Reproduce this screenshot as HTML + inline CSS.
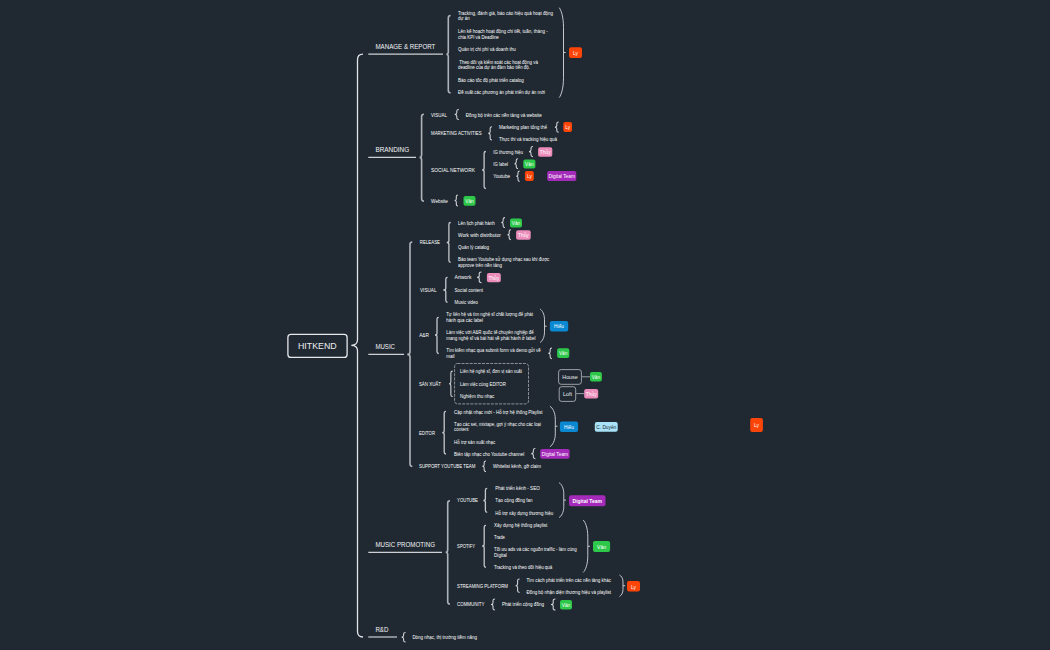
<!DOCTYPE html>
<html><head><meta charset="utf-8"><title>HITKEND</title>
<style>
html,body{margin:0;padding:0;background:#202932;width:1050px;height:650px;overflow:hidden;}
svg{display:block;font-family:"Liberation Sans",sans-serif;}
</style></head><body>
<svg width="1050" height="650" viewBox="0 0 1050 650">
<rect width="1050" height="650" fill="#202932"/>
<rect x="287.9" y="334.3" width="59.2" height="23.1" rx="3" fill="none" stroke="#e6e8eb" stroke-width="1.3"/>
<text x="298.00" y="349.00" font-size="9.20" fill="#eceef0" font-weight="normal" textLength="38.70" lengthAdjust="spacingAndGlyphs">HITKEND</text>
<path d="M363.00 54.20 Q357.50 54.20 357.50 59.70 L357.50 339.80 Q357.50 345.30 351.30 345.30 Q357.50 345.30 357.50 350.80 L357.50 631.50 Q357.50 637.00 363.00 637.00" stroke="#e2e4e7" stroke-width="1.30" fill="none"/>
<text x="375.40" y="49.00" font-size="7.90" fill="#f3f4f6" font-weight="normal" textLength="60.00" lengthAdjust="spacingAndGlyphs">MANAGE &amp; REPORT</text>
<path d="M368.30 54.20L443.00 54.20" stroke="#cdd1d5" stroke-width="1.20" fill="none"/>
<text x="375.40" y="152.00" font-size="7.90" fill="#f3f4f6" font-weight="normal" textLength="33.80" lengthAdjust="spacingAndGlyphs">BRANDING</text>
<path d="M368.30 157.40L416.00 157.40" stroke="#cdd1d5" stroke-width="1.20" fill="none"/>
<text x="375.40" y="349.00" font-size="7.90" fill="#f3f4f6" font-weight="normal" textLength="19.60" lengthAdjust="spacingAndGlyphs">MUSIC</text>
<path d="M368.30 354.40L404.00 354.40" stroke="#cdd1d5" stroke-width="1.20" fill="none"/>
<text x="375.40" y="547.00" font-size="7.90" fill="#f3f4f6" font-weight="normal" textLength="59.60" lengthAdjust="spacingAndGlyphs">MUSIC PROMOTING</text>
<path d="M368.30 552.40L442.00 552.40" stroke="#cdd1d5" stroke-width="1.20" fill="none"/>
<text x="375.40" y="632.00" font-size="7.90" fill="#f3f4f6" font-weight="normal" textLength="13.00" lengthAdjust="spacingAndGlyphs">R&amp;D</text>
<path d="M368.30 637.00L397.00 637.00" stroke="#cdd1d5" stroke-width="1.20" fill="none"/>
<path d="M450.60 15.50 Q448.30 15.50 448.30 17.80 L448.30 51.90 Q448.30 54.20 446.30 54.20 Q448.30 54.20 448.30 56.50 L448.30 90.40 Q448.30 92.70 450.60 92.70" stroke="#aeb3b9" stroke-width="1.60" fill="none"/>
<text x="458.00" y="15.00" font-size="5.40" fill="#ffffff" font-weight="normal" textLength="95.00" lengthAdjust="spacingAndGlyphs">Tracking, đánh giá, báo cáo  hiệu quả hoạt động</text>
<text x="458.00" y="20.00" font-size="5.40" fill="#ffffff" font-weight="normal" textLength="11.60" lengthAdjust="spacingAndGlyphs">dự án</text>
<text x="458.00" y="33.00" font-size="5.40" fill="#ffffff" font-weight="normal" textLength="89.70" lengthAdjust="spacingAndGlyphs">Lên kế hoạch hoạt động chi tiết, tuần, tháng -</text>
<text x="458.00" y="39.00" font-size="5.40" fill="#ffffff" font-weight="normal" textLength="40.80" lengthAdjust="spacingAndGlyphs">chia KPI và Deadline</text>
<text x="458.00" y="51.00" font-size="5.40" fill="#ffffff" font-weight="normal" textLength="57.70" lengthAdjust="spacingAndGlyphs">Quản trị chi phí và doanh thu</text>
<text x="459.20" y="64.00" font-size="5.40" fill="#ffffff" font-weight="normal" textLength="78.80" lengthAdjust="spacingAndGlyphs">Theo dõi và kiểm soát các hoạt động và</text>
<text x="458.00" y="69.00" font-size="5.40" fill="#ffffff" font-weight="normal" textLength="72.00" lengthAdjust="spacingAndGlyphs">deadline của dự án đảm bảo tiến độ.</text>
<text x="458.00" y="82.00" font-size="5.40" fill="#ffffff" font-weight="normal" textLength="65.80" lengthAdjust="spacingAndGlyphs">Báo cáo tốc độ phát triển catalog</text>
<text x="458.00" y="94.00" font-size="5.40" fill="#ffffff" font-weight="normal" textLength="87.00" lengthAdjust="spacingAndGlyphs">Đề xuất các phương án phát triển dự án mới</text>
<path d="M559.20 7.70 C561.13 10.10 563.50 16.70 563.50 27.70 L563.50 77.60 C563.50 88.60 561.13 95.20 559.20 97.60" stroke="#c4c7cc" stroke-width="1.00" fill="none"/>
<path d="M563.50 52.50L565.70 52.50" stroke="#c4c7cc" stroke-width="1.00"/>
<rect x="569.00" y="47.30" width="13.00" height="10.70" rx="2.00" fill="#fb4407"/>
<text x="575.50" y="54.86" font-size="4.80" fill="#ffffff" font-weight="normal" text-anchor="middle">Ly</text>
<path d="M423.90 114.20 Q421.60 114.20 421.60 116.50 L421.60 155.10 Q421.60 157.40 419.60 157.40 Q421.60 157.40 421.60 159.70 L421.60 198.80 Q421.60 201.10 423.90 201.10" stroke="#aeb3b9" stroke-width="1.60" fill="none"/>
<text x="431.00" y="117.00" font-size="5.30" fill="#ffffff" font-weight="normal" textLength="16.00" lengthAdjust="spacingAndGlyphs">VISUAL</text>
<path d="M458.90 109.40 Q456.80 109.40 456.80 111.00 L456.80 112.85 Q456.80 114.45 454.70 114.45 Q456.80 114.45 456.80 116.05 L456.80 117.90 Q456.80 119.50 458.90 119.50" stroke="#d3d6da" stroke-width="1.05" fill="none"/>
<text x="465.70" y="117.00" font-size="5.40" fill="#ffffff" font-weight="normal" textLength="76.20" lengthAdjust="spacingAndGlyphs">Đồng bộ trên các nền tảng và website</text>
<text x="431.00" y="135.00" font-size="5.30" fill="#ffffff" font-weight="normal" textLength="50.70" lengthAdjust="spacingAndGlyphs">MARKETING ACTIVITIES</text>
<path d="M492.00 126.70 Q490.15 126.70 490.15 128.30 L490.15 131.75 Q490.15 133.35 488.30 133.35 Q490.15 133.35 490.15 134.95 L490.15 138.40 Q490.15 140.00 492.00 140.00" stroke="#d3d6da" stroke-width="1.05" fill="none"/>
<text x="499.00" y="129.00" font-size="5.40" fill="#ffffff" font-weight="normal" textLength="48.00" lengthAdjust="spacingAndGlyphs">Marketing plan tổng thể</text>
<path d="M558.70 122.00 Q556.80 122.00 556.80 123.60 L556.80 125.55 Q556.80 127.15 554.90 127.15 Q556.80 127.15 556.80 128.75 L556.80 130.70 Q556.80 132.30 558.70 132.30" stroke="#d3d6da" stroke-width="1.05" fill="none"/>
<rect x="563.30" y="122.00" width="8.70" height="10.00" rx="2.00" fill="#fb4407"/>
<text x="567.65" y="129.21" font-size="4.80" fill="#ffffff" font-weight="normal" text-anchor="middle">Ly</text>
<text x="499.00" y="141.00" font-size="5.40" fill="#ffffff" font-weight="normal" textLength="58.00" lengthAdjust="spacingAndGlyphs">Thực thi và tracking hiệu quả</text>
<text x="431.00" y="172.00" font-size="5.30" fill="#ffffff" font-weight="normal" textLength="43.90" lengthAdjust="spacingAndGlyphs">SOCIAL NETWORK</text>
<path d="M485.90 151.50 Q484.10 151.50 484.10 153.30 L484.10 168.20 Q484.10 170.00 482.10 170.00 Q484.10 170.00 484.10 171.80 L484.10 186.70 Q484.10 188.50 485.90 188.50" stroke="#c3c7cc" stroke-width="1.30" fill="none"/>
<text x="493.30" y="154.00" font-size="5.40" fill="#ffffff" font-weight="normal" textLength="29.60" lengthAdjust="spacingAndGlyphs">IG thương hiệu</text>
<path d="M533.00 146.50 Q531.00 146.50 531.00 148.10 L531.00 150.00 Q531.00 151.60 529.00 151.60 Q531.00 151.60 531.00 153.20 L531.00 155.10 Q531.00 156.70 533.00 156.70" stroke="#d3d6da" stroke-width="1.05" fill="none"/>
<rect x="538.10" y="147.20" width="14.20" height="9.50" rx="2.00" fill="#ec8cbb"/>
<text x="545.20" y="154.16" font-size="4.80" fill="#ffffff" font-weight="normal" text-anchor="middle">Thủy</text>
<text x="493.30" y="166.00" font-size="5.40" fill="#ffffff" font-weight="normal" textLength="14.70" lengthAdjust="spacingAndGlyphs">IG label</text>
<path d="M518.00 158.70 Q516.25 158.70 516.25 160.30 L516.25 162.05 Q516.25 163.65 514.50 163.65 Q516.25 163.65 516.25 165.25 L516.25 167.00 Q516.25 168.60 518.00 168.60" stroke="#d3d6da" stroke-width="1.05" fill="none"/>
<rect x="523.30" y="159.40" width="12.10" height="9.20" rx="2.00" fill="#2dc84a"/>
<text x="529.35" y="166.21" font-size="4.80" fill="#ffffff" font-weight="normal" text-anchor="middle">Vân</text>
<text x="493.30" y="178.00" font-size="5.40" fill="#ffffff" font-weight="normal" textLength="16.70" lengthAdjust="spacingAndGlyphs">Youtube</text>
<path d="M519.70 171.00 Q518.00 171.00 518.00 172.60 L518.00 174.60 Q518.00 176.20 516.30 176.20 Q518.00 176.20 518.00 177.80 L518.00 179.80 Q518.00 181.40 519.70 181.40" stroke="#d3d6da" stroke-width="1.05" fill="none"/>
<rect x="524.90" y="171.10" width="8.90" height="9.90" rx="2.00" fill="#fb4407"/>
<text x="529.35" y="178.26" font-size="4.80" fill="#ffffff" font-weight="normal" text-anchor="middle">Ly</text>
<rect x="547.20" y="171.10" width="29.10" height="9.90" rx="2.00" fill="#a42bb9"/>
<text x="561.75" y="178.26" font-size="4.80" fill="#ffffff" font-weight="normal" text-anchor="middle">Digital Team</text>
<text x="431.00" y="203.00" font-size="5.30" fill="#ffffff" font-weight="normal" textLength="17.00" lengthAdjust="spacingAndGlyphs">Website</text>
<path d="M458.00 195.00 Q456.30 195.00 456.30 196.60 L456.30 198.90 Q456.30 200.50 454.60 200.50 Q456.30 200.50 456.30 202.10 L456.30 204.40 Q456.30 206.00 458.00 206.00" stroke="#d3d6da" stroke-width="1.05" fill="none"/>
<rect x="463.50" y="196.00" width="12.00" height="9.80" rx="2.00" fill="#2dc84a"/>
<text x="469.50" y="203.11" font-size="4.80" fill="#ffffff" font-weight="normal" text-anchor="middle">Vân</text>
<path d="M412.30 242.00 Q410.00 242.00 410.00 244.30 L410.00 352.10 Q410.00 354.40 407.30 354.40 Q410.00 354.40 410.00 356.70 L410.00 464.00 Q410.00 466.30 412.30 466.30" stroke="#aeb3b9" stroke-width="1.60" fill="none"/>
<text x="419.80" y="244.00" font-size="5.30" fill="#ffffff" font-weight="normal" textLength="20.20" lengthAdjust="spacingAndGlyphs">RELEASE</text>
<path d="M450.70 222.50 Q448.90 222.50 448.90 224.30 L448.90 240.70 Q448.90 242.50 446.80 242.50 Q448.90 242.50 448.90 244.30 L448.90 260.50 Q448.90 262.30 450.70 262.30" stroke="#c3c7cc" stroke-width="1.30" fill="none"/>
<text x="457.90" y="225.00" font-size="5.40" fill="#ffffff" font-weight="normal" textLength="36.90" lengthAdjust="spacingAndGlyphs">Lên lịch phát hành</text>
<path d="M505.00 217.60 Q503.15 217.60 503.15 219.20 L503.15 220.95 Q503.15 222.55 501.30 222.55 Q503.15 222.55 503.15 224.15 L503.15 225.90 Q503.15 227.50 505.00 227.50" stroke="#d3d6da" stroke-width="1.05" fill="none"/>
<rect x="510.00" y="218.40" width="12.00" height="9.10" rx="2.00" fill="#2dc84a"/>
<text x="516.00" y="225.16" font-size="4.80" fill="#ffffff" font-weight="normal" text-anchor="middle">Vân</text>
<text x="458.00" y="237.00" font-size="5.40" fill="#ffffff" font-weight="normal" textLength="42.90" lengthAdjust="spacingAndGlyphs">Work with distributor</text>
<path d="M511.00 229.80 Q509.20 229.80 509.20 231.40 L509.20 233.15 Q509.20 234.75 507.40 234.75 Q509.20 234.75 509.20 236.35 L509.20 238.10 Q509.20 239.70 511.00 239.70" stroke="#d3d6da" stroke-width="1.05" fill="none"/>
<rect x="516.10" y="230.30" width="14.60" height="9.40" rx="2.00" fill="#ec8cbb"/>
<text x="523.40" y="237.21" font-size="4.80" fill="#ffffff" font-weight="normal" text-anchor="middle">Thủy</text>
<text x="458.00" y="249.00" font-size="5.40" fill="#ffffff" font-weight="normal" textLength="31.10" lengthAdjust="spacingAndGlyphs">Quản lý catalog</text>
<text x="458.00" y="261.00" font-size="5.40" fill="#ffffff" font-weight="normal" textLength="91.30" lengthAdjust="spacingAndGlyphs">Báo team Youtube sử dụng nhạc sau khi được</text>
<text x="458.00" y="267.00" font-size="5.40" fill="#ffffff" font-weight="normal" textLength="44.00" lengthAdjust="spacingAndGlyphs">approve trên nền tảng</text>
<text x="420.00" y="292.00" font-size="5.30" fill="#ffffff" font-weight="normal" textLength="16.50" lengthAdjust="spacingAndGlyphs">VISUAL</text>
<path d="M447.60 277.30 Q445.80 277.30 445.80 279.10 L445.80 288.20 Q445.80 290.00 443.40 290.00 Q445.80 290.00 445.80 291.80 L445.80 300.50 Q445.80 302.30 447.60 302.30" stroke="#c3c7cc" stroke-width="1.30" fill="none"/>
<text x="454.60" y="279.00" font-size="5.40" fill="#ffffff" font-weight="normal" textLength="16.90" lengthAdjust="spacingAndGlyphs">Artwork</text>
<path d="M481.50 271.90 Q479.25 271.90 479.25 273.50 L479.25 275.70 Q479.25 277.30 477.00 277.30 Q479.25 277.30 479.25 278.90 L479.25 281.10 Q479.25 282.70 481.50 282.70" stroke="#d3d6da" stroke-width="1.05" fill="none"/>
<rect x="486.90" y="273.00" width="13.90" height="9.20" rx="2.00" fill="#ec8cbb"/>
<text x="493.85" y="279.81" font-size="4.80" fill="#ffffff" font-weight="normal" text-anchor="middle">Thủy</text>
<text x="454.60" y="292.00" font-size="5.40" fill="#ffffff" font-weight="normal" textLength="28.40" lengthAdjust="spacingAndGlyphs">Social content</text>
<text x="454.60" y="304.00" font-size="5.40" fill="#ffffff" font-weight="normal" textLength="23.40" lengthAdjust="spacingAndGlyphs">Music video</text>
<text x="419.20" y="337.00" font-size="5.30" fill="#ffffff" font-weight="normal" textLength="9.80" lengthAdjust="spacingAndGlyphs">A&amp;R</text>
<path d="M438.80 317.30 Q437.00 317.30 437.00 319.10 L437.00 333.20 Q437.00 335.00 435.00 335.00 Q437.00 335.00 437.00 336.80 L437.00 351.70 Q437.00 353.50 438.80 353.50" stroke="#c3c7cc" stroke-width="1.30" fill="none"/>
<text x="446.20" y="316.00" font-size="5.40" fill="#ffffff" font-weight="normal" textLength="86.80" lengthAdjust="spacingAndGlyphs">Tự liên hệ và tìm nghệ sĩ chất lượng để phát</text>
<text x="446.20" y="322.00" font-size="5.40" fill="#ffffff" font-weight="normal" textLength="36.80" lengthAdjust="spacingAndGlyphs">hành qua các label</text>
<text x="446.20" y="334.00" font-size="5.40" fill="#ffffff" font-weight="normal" textLength="87.60" lengthAdjust="spacingAndGlyphs">Làm việc với A&amp;R quốc tế chuyên nghiệp để</text>
<text x="446.20" y="340.00" font-size="5.40" fill="#ffffff" font-weight="normal" textLength="89.20" lengthAdjust="spacingAndGlyphs">mang nghệ sĩ và bài hát về phát hành ở label</text>
<path d="M540.20 309.10 C542.13 310.38 544.50 313.91 544.50 319.79 L544.50 331.81 C544.50 337.69 542.13 341.22 540.20 342.50" stroke="#c4c7cc" stroke-width="1.00" fill="none"/>
<path d="M544.50 326.20L546.70 326.20" stroke="#c4c7cc" stroke-width="1.00"/>
<rect x="549.90" y="321.00" width="18.30" height="10.40" rx="2.00" fill="#0a88d2"/>
<text x="559.05" y="328.41" font-size="4.80" fill="#ffffff" font-weight="normal" text-anchor="middle">Hiếu</text>
<text x="446.20" y="352.00" font-size="5.40" fill="#ffffff" font-weight="normal" textLength="94.60" lengthAdjust="spacingAndGlyphs">Tìm kiếm nhạc qua submit form và demo gửi về</text>
<text x="446.20" y="358.00" font-size="5.40" fill="#ffffff" font-weight="normal" textLength="8.40" lengthAdjust="spacingAndGlyphs">mail</text>
<path d="M552.00 347.90 Q550.15 347.90 550.15 349.50 L550.15 351.70 Q550.15 353.30 548.30 353.30 Q550.15 353.30 550.15 354.90 L550.15 357.10 Q550.15 358.70 552.00 358.70" stroke="#d3d6da" stroke-width="1.05" fill="none"/>
<rect x="557.10" y="348.20" width="12.20" height="9.70" rx="2.00" fill="#2dc84a"/>
<text x="563.20" y="355.26" font-size="4.80" fill="#ffffff" font-weight="normal" text-anchor="middle">Vân</text>
<text x="418.90" y="386.00" font-size="5.30" fill="#ffffff" font-weight="normal" textLength="22.10" lengthAdjust="spacingAndGlyphs">SẢN XUẤT</text>
<path d="M452.70 371.10 Q450.85 371.10 450.85 372.90 L450.85 382.00 Q450.85 383.80 449.00 383.80 Q450.85 383.80 450.85 385.60 L450.85 394.70 Q450.85 396.50 452.70 396.50" stroke="#d3d6da" stroke-width="1.05" fill="none"/>
<rect x="454.6" y="363.5" width="73.9" height="40.4" rx="2.8" fill="none" stroke="#9da2a8" stroke-width="0.85" stroke-dasharray="3 1.1"/>
<text x="460.10" y="373.00" font-size="5.40" fill="#ffffff" font-weight="normal" textLength="61.90" lengthAdjust="spacingAndGlyphs">Liên hệ nghệ sĩ, đơn vị sản xuất</text>
<text x="460.10" y="386.00" font-size="5.40" fill="#ffffff" font-weight="normal" textLength="45.80" lengthAdjust="spacingAndGlyphs">Làm việc cùng EDITOR</text>
<text x="460.10" y="398.00" font-size="5.40" fill="#ffffff" font-weight="normal" textLength="34.10" lengthAdjust="spacingAndGlyphs">Nghiệm thu nhạc</text>
<rect x="558.6" y="369.6" width="22.8" height="14.7" rx="2.5" fill="none" stroke="#a9adb3" stroke-width="0.9"/>
<text x="562.30" y="379.00" font-size="5.60" fill="#eceef0" font-weight="normal" textLength="15.40" lengthAdjust="spacingAndGlyphs">House</text>
<path d="M581.90 376.80L590.00 376.80" stroke="#a9adb3" stroke-width="0.90" fill="none"/>
<rect x="590.00" y="371.90" width="11.90" height="9.60" rx="2.00" fill="#2dc84a"/>
<text x="595.95" y="378.91" font-size="4.80" fill="#ffffff" font-weight="normal" text-anchor="middle">Vân</text>
<rect x="559.2" y="386.7" width="16.5" height="14.7" rx="2.5" fill="none" stroke="#a9adb3" stroke-width="0.9"/>
<text x="563.00" y="396.00" font-size="5.60" fill="#eceef0" font-weight="normal" textLength="9.00" lengthAdjust="spacingAndGlyphs">Loft</text>
<path d="M576.20 393.60L584.20 393.60" stroke="#a9adb3" stroke-width="0.90" fill="none"/>
<rect x="584.20" y="389.10" width="14.00" height="9.40" rx="2.00" fill="#ec8cbb"/>
<text x="591.20" y="396.01" font-size="4.80" fill="#ffffff" font-weight="normal" text-anchor="middle">Thủy</text>
<text x="419.00" y="435.00" font-size="5.30" fill="#ffffff" font-weight="normal" textLength="16.00" lengthAdjust="spacingAndGlyphs">EDITOR</text>
<path d="M446.00 411.40 Q444.20 411.40 444.20 413.20 L444.20 430.90 Q444.20 432.70 442.20 432.70 Q444.20 432.70 444.20 434.50 L444.20 452.20 Q444.20 454.00 446.00 454.00" stroke="#c3c7cc" stroke-width="1.30" fill="none"/>
<text x="454.10" y="414.00" font-size="5.40" fill="#ffffff" font-weight="normal" textLength="88.40" lengthAdjust="spacingAndGlyphs">Cập nhật nhạc mới - Hỗ trợ hệ thống Playlist</text>
<text x="454.10" y="426.00" font-size="5.40" fill="#ffffff" font-weight="normal" textLength="86.90" lengthAdjust="spacingAndGlyphs">Tạo các set, mixtape, gợi ý nhạc cho các loại</text>
<text x="454.10" y="431.00" font-size="5.40" fill="#ffffff" font-weight="normal" textLength="14.50" lengthAdjust="spacingAndGlyphs">content</text>
<text x="454.10" y="444.00" font-size="5.40" fill="#ffffff" font-weight="normal" textLength="41.10" lengthAdjust="spacingAndGlyphs">Hỗ trợ sản xuất nhạc</text>
<path d="M549.90 406.20 C552.33 407.76 555.30 412.05 555.30 419.19 L555.30 433.81 C555.30 440.95 552.33 445.24 549.90 446.80" stroke="#c4c7cc" stroke-width="1.00" fill="none"/>
<path d="M555.30 426.20L557.50 426.20" stroke="#c4c7cc" stroke-width="1.00"/>
<rect x="559.90" y="421.50" width="18.20" height="10.50" rx="2.00" fill="#0a88d2"/>
<text x="569.00" y="428.96" font-size="4.80" fill="#ffffff" font-weight="normal" text-anchor="middle">Hiếu</text>
<rect x="594.80" y="422.00" width="22.90" height="9.80" rx="2.00" fill="#a7e2f6"/>
<text x="606.25" y="429.11" font-size="4.80" fill="#1f2630" font-weight="normal" text-anchor="middle">C. Duyên</text>
<rect x="750.20" y="418.10" width="12.70" height="13.80" rx="2.00" fill="#fb4407"/>
<text x="756.55" y="427.21" font-size="4.80" fill="#ffffff" font-weight="normal" text-anchor="middle">Ly</text>
<text x="454.10" y="456.00" font-size="5.40" fill="#ffffff" font-weight="normal" textLength="70.10" lengthAdjust="spacingAndGlyphs">Biên tập nhạc cho Youtube channel</text>
<path d="M535.40 448.50 Q533.35 448.50 533.35 450.10 L533.35 452.00 Q533.35 453.60 531.30 453.60 Q533.35 453.60 533.35 455.20 L533.35 457.10 Q533.35 458.70 535.40 458.70" stroke="#d3d6da" stroke-width="1.05" fill="none"/>
<rect x="540.20" y="449.00" width="29.40" height="9.70" rx="2.00" fill="#a42bb9"/>
<text x="554.90" y="456.06" font-size="4.80" fill="#ffffff" font-weight="normal" text-anchor="middle">Digital Team</text>
<text x="419.00" y="468.00" font-size="5.30" fill="#ffffff" font-weight="normal" textLength="56.40" lengthAdjust="spacingAndGlyphs">SUPPORT YOUTUBE TEAM</text>
<path d="M486.00 461.00 Q484.15 461.00 484.15 462.60 L484.15 464.70 Q484.15 466.30 482.30 466.30 Q484.15 466.30 484.15 467.90 L484.15 470.00 Q484.15 471.60 486.00 471.60" stroke="#d3d6da" stroke-width="1.05" fill="none"/>
<text x="493.00" y="468.00" font-size="5.40" fill="#ffffff" font-weight="normal" textLength="48.00" lengthAdjust="spacingAndGlyphs">Whitelist kênh, gỡ claim</text>
<path d="M450.00 500.70 Q447.70 500.70 447.70 503.00 L447.70 549.90 Q447.70 552.20 445.70 552.20 Q447.70 552.20 447.70 554.50 L447.70 601.70 Q447.70 604.00 450.00 604.00" stroke="#aeb3b9" stroke-width="1.60" fill="none"/>
<text x="457.10" y="502.00" font-size="5.30" fill="#ffffff" font-weight="normal" textLength="20.90" lengthAdjust="spacingAndGlyphs">YOUTUBE</text>
<path d="M487.20 488.40 Q485.40 488.40 485.40 490.20 L485.40 498.70 Q485.40 500.50 483.40 500.50 Q485.40 500.50 485.40 502.30 L485.40 510.60 Q485.40 512.40 487.20 512.40" stroke="#c3c7cc" stroke-width="1.30" fill="none"/>
<text x="495.20" y="490.00" font-size="5.40" fill="#ffffff" font-weight="normal" textLength="44.60" lengthAdjust="spacingAndGlyphs">Phát triển kênh  - SEO</text>
<text x="495.20" y="502.00" font-size="5.40" fill="#ffffff" font-weight="normal" textLength="37.40" lengthAdjust="spacingAndGlyphs">Tạo cộng đồng fan</text>
<text x="495.20" y="515.00" font-size="5.40" fill="#ffffff" font-weight="normal" textLength="58.00" lengthAdjust="spacingAndGlyphs">Hỗ trợ xây dựng thương hiệu</text>
<path d="M559.20 482.70 C561.27 484.04 563.80 487.71 563.80 493.84 L563.80 506.36 C563.80 512.49 561.27 516.16 559.20 517.50" stroke="#c4c7cc" stroke-width="1.00" fill="none"/>
<path d="M563.80 500.10L566.00 500.10" stroke="#c4c7cc" stroke-width="1.00"/>
<rect x="569.00" y="495.20" width="36.50" height="11.00" rx="2.00" fill="#a42bb9"/>
<text x="587.25" y="503.37" font-size="5.80" fill="#ffffff" font-weight="bold" text-anchor="middle" textLength="29.40" lengthAdjust="spacingAndGlyphs">Digital Team</text>
<text x="457.10" y="548.00" font-size="5.30" fill="#ffffff" font-weight="normal" textLength="18.00" lengthAdjust="spacingAndGlyphs">SPOTIFY</text>
<path d="M486.00 525.30 Q484.20 525.30 484.20 527.10 L484.20 544.20 Q484.20 546.00 482.20 546.00 Q484.20 546.00 484.20 547.80 L484.20 565.50 Q484.20 567.30 486.00 567.30" stroke="#c3c7cc" stroke-width="1.30" fill="none"/>
<text x="494.00" y="527.00" font-size="5.40" fill="#ffffff" font-weight="normal" textLength="53.20" lengthAdjust="spacingAndGlyphs">Xây dựng hệ thống playlist</text>
<text x="494.00" y="539.00" font-size="5.40" fill="#ffffff" font-weight="normal" textLength="10.80" lengthAdjust="spacingAndGlyphs">Trade</text>
<text x="494.00" y="551.00" font-size="5.40" fill="#ffffff" font-weight="normal" textLength="82.80" lengthAdjust="spacingAndGlyphs">Tối ưu ads và các nguồn traffic - làm cùng</text>
<text x="494.00" y="557.00" font-size="5.40" fill="#ffffff" font-weight="normal" textLength="12.90" lengthAdjust="spacingAndGlyphs">Digital</text>
<text x="494.00" y="569.00" font-size="5.40" fill="#ffffff" font-weight="normal" textLength="58.30" lengthAdjust="spacingAndGlyphs">Tracking và theo dõi hiệu quả</text>
<path d="M583.20 520.10 C585.27 522.11 587.80 527.63 587.80 536.84 L587.80 555.66 C587.80 564.87 585.27 570.39 583.20 572.40" stroke="#c4c7cc" stroke-width="1.00" fill="none"/>
<path d="M587.80 546.25L590.00 546.25" stroke="#c4c7cc" stroke-width="1.00"/>
<rect x="593.00" y="541.10" width="17.10" height="10.80" rx="2.00" fill="#2dc84a"/>
<text x="601.55" y="548.89" font-size="5.20" fill="#ffffff" font-weight="normal" text-anchor="middle">Vân</text>
<text x="457.00" y="588.00" font-size="5.30" fill="#ffffff" font-weight="normal" textLength="51.00" lengthAdjust="spacingAndGlyphs">STREAMING PLATFORM</text>
<path d="M519.60 579.00 Q517.60 579.00 517.60 580.60 L517.60 584.10 Q517.60 585.70 515.60 585.70 Q517.60 585.70 517.60 587.30 L517.60 590.80 Q517.60 592.40 519.60 592.40" stroke="#d3d6da" stroke-width="1.05" fill="none"/>
<text x="526.40" y="582.00" font-size="5.40" fill="#ffffff" font-weight="normal" textLength="84.60" lengthAdjust="spacingAndGlyphs">Tìm cách phát triển trên các nền tảng khác</text>
<text x="526.40" y="594.00" font-size="5.40" fill="#ffffff" font-weight="normal" textLength="84.60" lengthAdjust="spacingAndGlyphs">Đồng bộ nhận diện thương hiệu và playlist</text>
<path d="M619.50 575.00 C621.08 575.82 623.00 578.08 623.00 581.85 L623.00 589.55 C623.00 593.32 621.08 595.58 619.50 596.40" stroke="#c4c7cc" stroke-width="1.00" fill="none"/>
<path d="M623.00 585.70L625.20 585.70" stroke="#c4c7cc" stroke-width="1.00"/>
<rect x="627.00" y="581.00" width="13.00" height="10.60" rx="2.00" fill="#fb4407"/>
<text x="633.50" y="588.51" font-size="4.80" fill="#ffffff" font-weight="normal" text-anchor="middle">Ly</text>
<text x="457.00" y="606.00" font-size="5.30" fill="#ffffff" font-weight="normal" textLength="27.40" lengthAdjust="spacingAndGlyphs">COMMUNITY</text>
<path d="M495.00 599.00 Q493.00 599.00 493.00 600.60 L493.00 602.90 Q493.00 604.50 491.00 604.50 Q493.00 604.50 493.00 606.10 L493.00 608.40 Q493.00 610.00 495.00 610.00" stroke="#d3d6da" stroke-width="1.05" fill="none"/>
<text x="502.00" y="606.00" font-size="5.40" fill="#ffffff" font-weight="normal" textLength="42.00" lengthAdjust="spacingAndGlyphs">Phát triển cộng đồng</text>
<path d="M555.40 599.00 Q553.20 599.00 553.20 600.60 L553.20 602.90 Q553.20 604.50 551.00 604.50 Q553.20 604.50 553.20 606.10 L553.20 608.40 Q553.20 610.00 555.40 610.00" stroke="#d3d6da" stroke-width="1.05" fill="none"/>
<rect x="560.00" y="600.00" width="12.00" height="9.60" rx="2.00" fill="#2dc84a"/>
<text x="566.00" y="607.01" font-size="4.80" fill="#ffffff" font-weight="normal" text-anchor="middle">Vân</text>
<path d="M405.60 632.40 Q403.60 632.40 403.60 634.00 L403.60 635.60 Q403.60 637.20 401.60 637.20 Q403.60 637.20 403.60 638.80 L403.60 640.40 Q403.60 642.00 405.60 642.00" stroke="#d3d6da" stroke-width="1.05" fill="none"/>
<text x="412.40" y="639.00" font-size="5.40" fill="#ffffff" font-weight="normal" textLength="64.60" lengthAdjust="spacingAndGlyphs">Dòng nhạc, thị trường tiềm năng</text>
</svg>
</body></html>
